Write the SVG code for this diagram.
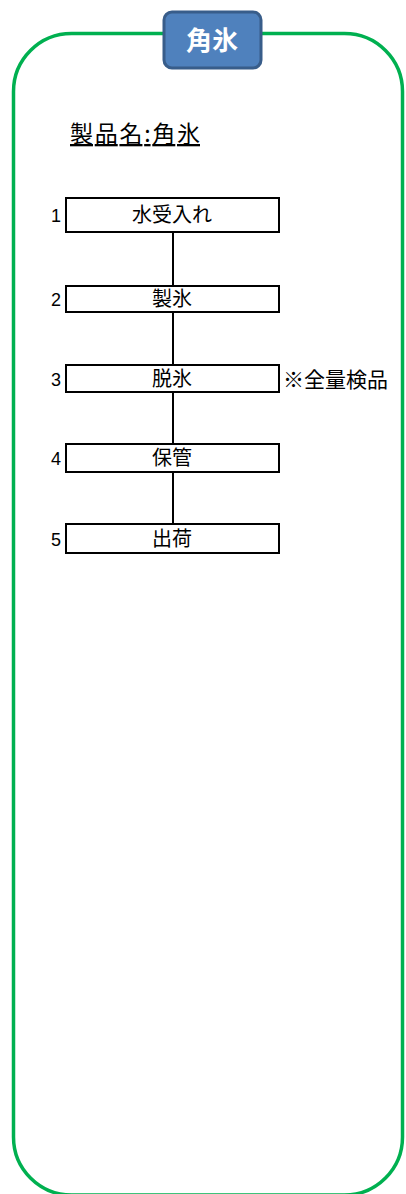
<svg xmlns="http://www.w3.org/2000/svg" width="406" height="1194" viewBox="0 0 406 1194">
<style>
.cjk{font-family:"Noto Sans CJK JP","Noto Sans CJK SC",sans-serif;}
.box{fill:#fff;stroke:#000;stroke-width:2;}
.lbl{font-size:20px;fill:#000;text-anchor:middle;}
.num{font-family:"Liberation Sans",sans-serif;font-size:18px;fill:#000;text-anchor:end;}
.conn{stroke:#000;stroke-width:2;fill:none;}
</style>
<rect x="13.5" y="33.5" width="389" height="1161.5" rx="58" fill="#fff" stroke="#00B050" stroke-width="3.5"/>
<g id="title">
<rect x="164" y="12" width="97" height="56" rx="8" fill="#4F81BD" stroke="#385D8A" stroke-width="3"/>
<text x="212" y="50" class="cjk" font-size="26" font-weight="bold" fill="#fff" text-anchor="middle">角氷</text>
</g>
<g id="product">
<text x="70" y="142" class="cjk" font-size="23" fill="#000" text-decoration="underline" textLength="130" lengthAdjust="spacing">製品名:角氷</text>
</g>
<g id="connectors">
<line class="conn" x1="173" y1="232" x2="173" y2="286"/>
<line class="conn" x1="173" y1="312" x2="173" y2="365"/>
<line class="conn" x1="173" y1="392" x2="173" y2="444"/>
<line class="conn" x1="173" y1="472" x2="173" y2="524"/>
</g>
<g id="step1">
<text x="61" y="222" class="num">1</text>
<rect class="box" x="66" y="198" width="213" height="34"/>
<text x="172" y="222" class="cjk lbl">水受入れ</text>
</g>
<g id="step2">
<text x="61" y="306" class="num">2</text>
<rect class="box" x="66" y="286" width="213" height="26"/>
<text x="172" y="306" class="cjk lbl">製氷</text>
</g>
<g id="step3">
<text x="61" y="386" class="num">3</text>
<rect class="box" x="66" y="365" width="213" height="27"/>
<text x="172" y="386" class="cjk lbl">脱氷</text>
<text x="283" y="387" class="cjk" font-size="21" fill="#000">※全量検品</text>
</g>
<g id="step4">
<text x="61" y="465" class="num">4</text>
<rect class="box" x="66" y="444" width="213" height="28"/>
<text x="172" y="465" class="cjk lbl">保管</text>
</g>
<g id="step5">
<text x="61" y="546" class="num">5</text>
<rect class="box" x="66" y="524" width="213" height="29"/>
<text x="172" y="546" class="cjk lbl">出荷</text>
</g>
</svg>
